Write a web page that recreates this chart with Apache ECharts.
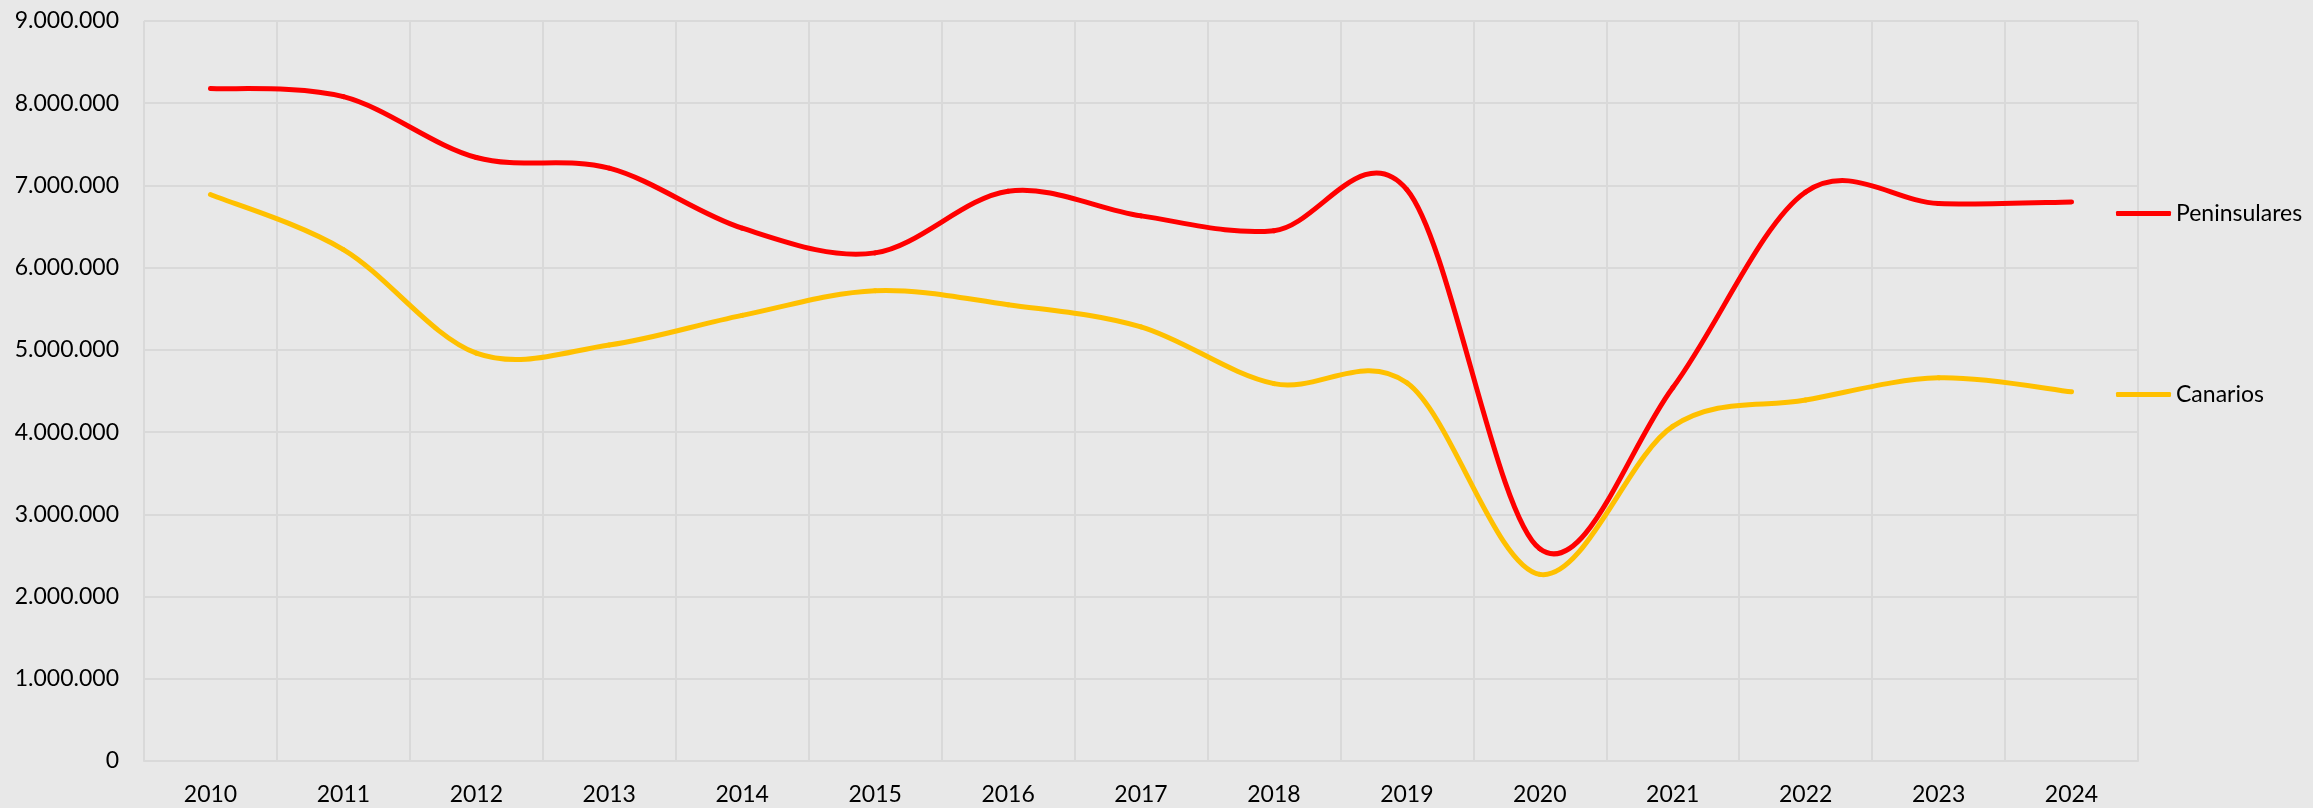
<!DOCTYPE html>
<html>
<head>
<meta charset="utf-8">
<script src="https://cdn.jsdelivr.net/npm/echarts@6/dist/echarts.min.js"></script>
<style>
  html, body { margin: 0; padding: 0; background: #e8e8e8; }
  #chart { width: 2313px; height: 808px; }
</style>
</head>
<body>
<div id="chart"></div>
<script>
var years = ['2010', '2011', '2012', '2013', '2014', '2015', '2016', '2017', '2018', '2019', '2020', '2021', '2022', '2023', '2024']
var peninsulares = [8180000, 8080000, 7340000, 7210000, 6480000, 6180000, 6930000, 6630000, 6450000, 6950000, 2580000, 4540000, 6920000, 6780000, 6800000]
var canarios = [6890000, 6220000, 4960000, 5060000, 5420000, 5720000, 5550000, 5280000, 4590000, 4600000, 2270000, 4070000, 4390000, 4660000, 4490000]

var font = 'Lato'
var gridColor = '#d9d9d9'

function fmt(v) {
  return String(v).replace(/\B(?=(\d{3})+(?!\d))/g, '.')
}

// curva suavizada tipo Excel (Catmull-Rom, tension 1/6), un tramo por punto
function smoothLine(name, values, color) {
  return {
    name: name,
    type: 'custom',
    itemStyle: { color: color },
    data: values.map(function (v, i) { return [i, v] }),
    encode: { x: 0, y: 1 },
    renderItem: function (params, api) {
      var i = params.dataIndex
      var n = values.length
      if (i >= n - 1) return { type: 'group', children: [] }
      var p = function (j) {
        j = Math.max(0, Math.min(n - 1, j))
        return api.coord([j, values[j]])
      }
      var p0 = p(i - 1), p1 = p(i), p2 = p(i + 1), p3 = p(i + 2)
      return {
        type: 'bezierCurve',
        shape: {
          x1: p1[0], y1: p1[1],
          x2: p2[0], y2: p2[1],
          cpx1: p1[0] + (p2[0] - p0[0]) / 6,
          cpy1: p1[1] + (p2[1] - p0[1]) / 6,
          cpx2: p2[0] - (p3[0] - p1[0]) / 6,
          cpy2: p2[1] - (p3[1] - p1[1]) / 6
        },
        style: { stroke: color, lineWidth: 5, fill: null, lineCap: 'round' }
      }
    }
  }
}

var chart = echarts.init(document.getElementById('chart'))

chart.setOption({
  backgroundColor: '#e8e8e8',
  animation: false,
  grid: {
    left: 144,
    right: 175,
    top: 21,
    bottom: 47
  },
  legend: [
    {
      data: ['Peninsulares'],
      left: 2111,
      top: 197,
      icon: 'roundRect',
      itemWidth: 55,
      itemHeight: 5,
      textStyle: { fontFamily: font, fontSize: 23, color: '#000' }
    },
    {
      data: ['Canarios'],
      left: 2111,
      top: 378,
      icon: 'roundRect',
      itemWidth: 55,
      itemHeight: 5,
      textStyle: { fontFamily: font, fontSize: 23, color: '#000' }
    }
  ],
  xAxis: {
    type: 'category',
    data: years,
    boundaryGap: true,
    axisTick: { show: false },
    axisLine: { show: true, lineStyle: { color: gridColor, width: 2 } },
    axisLabel: { fontFamily: font, fontSize: 23, color: '#000', margin: 22 },
    splitLine: { show: true, lineStyle: { color: gridColor, width: 2 } }
  },
  yAxis: {
    type: 'value',
    min: 0,
    max: 9000000,
    interval: 1000000,
    axisLine: { show: false },
    axisTick: { show: false },
    axisLabel: {
      fontFamily: font, fontSize: 23, color: '#000', margin: 25,
      formatter: fmt
    },
    splitLine: { show: true, lineStyle: { color: gridColor, width: 2 } }
  },
  series: [
    smoothLine('Peninsulares', peninsulares, '#ff0000'),
    smoothLine('Canarios', canarios, '#ffc000')
  ]
})
</script>
</body>
</html>
